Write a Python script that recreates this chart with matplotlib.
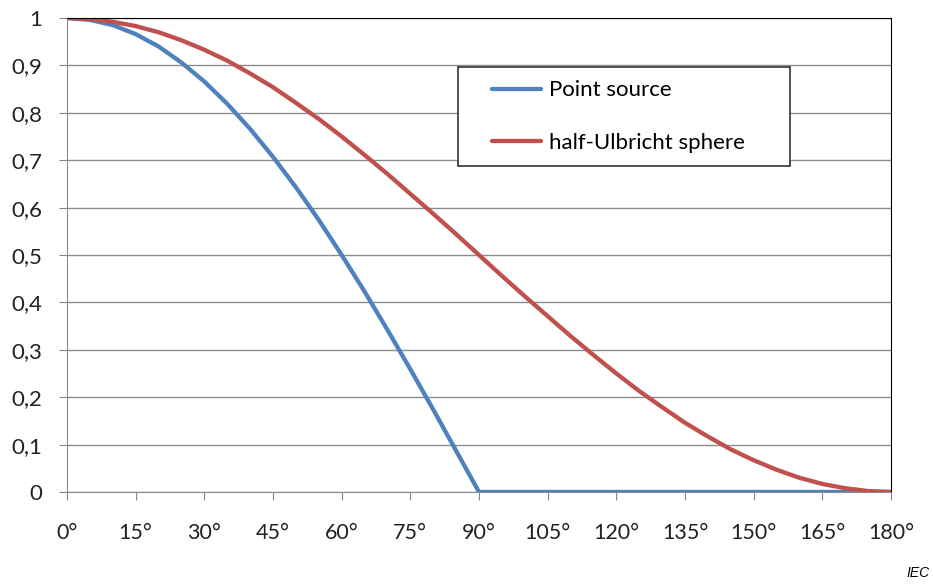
import matplotlib
matplotlib.use("Agg")
import matplotlib.pyplot as plt
from matplotlib.patches import Rectangle

# angles in degrees, 5 deg steps
angles = list(range(0, 185, 5))
point_source = [1.0, 0.996, 0.985, 0.966, 0.940, 0.906, 0.866, 0.819, 0.766, 0.707,
                0.643, 0.574, 0.500, 0.423, 0.342, 0.259, 0.174, 0.087, 0.0,
                0, 0, 0, 0, 0, 0, 0, 0, 0, 0, 0, 0, 0, 0, 0, 0, 0, 0]
half_sphere = [1.0, 0.998, 0.992, 0.983, 0.970, 0.953, 0.933, 0.910, 0.883, 0.854,
               0.821, 0.787, 0.750, 0.711, 0.671, 0.629, 0.587, 0.544, 0.500,
               0.456, 0.413, 0.371, 0.329, 0.289, 0.250, 0.213, 0.179, 0.146,
               0.117, 0.090, 0.067, 0.047, 0.030, 0.017, 0.008, 0.002, 0.0]
xticks = list(range(0, 181, 15))
xlabels = [f"{t}°" for t in xticks]
yticks = [i / 10 for i in range(11)]
ylabels = ["0"] + [f"0,{i}" for i in range(1, 10)] + ["1"]

plt.rcParams['font.family'] = ['Lato', 'DejaVu Sans']

W, H = 933, 586
fig = plt.figure(figsize=(W / 100, H / 100), dpi=100)
ax = fig.add_axes([67 / W, 1 - 492 / H, (891 - 67) / W, (492 - 18) / H])

ax.plot(angles, point_source, color='#4F81BD', lw=3.1, label='Point source', solid_capstyle='round')
ax.plot(angles, half_sphere, color='#C0504D', lw=3.1, label='half-Ulbricht sphere', solid_capstyle='round')

ax.set_xlim(0, 180)
ax.set_ylim(0, 1)
ax.set_xticks(xticks)
ax.set_xticklabels(xlabels, fontsize=15.5, color='#222222')
ax.set_yticks(yticks)
ax.set_yticklabels(ylabels, fontsize=16, color='#222222')
ax.tick_params(axis='x', length=6, color='#888888', pad=16)
ax.tick_params(axis='y', length=6, color='#888888', pad=12)
ax.grid(axis='y', color='#8c8c8c', lw=1)
ax.set_axisbelow(True)
for s in ['left', 'bottom']:
    ax.spines[s].set_color('#8c8c8c')
for s in ['top', 'right']:
    ax.spines[s].set_color('black')

# legend box drawn by hand, entries without frame
fig.patches.append(Rectangle((458 / W, 1 - 166 / H), (790 - 458) / W, (166 - 67) / H,
                             transform=fig.transFigure, facecolor='white',
                             edgecolor='#333333', lw=1.2, zorder=3))
leg = fig.legend(loc='center left', bbox_to_anchor=(492 / W, 1 - 116.5 / H), frameon=False,
                 fontsize=16, handlelength=2.2, borderpad=0, labelspacing=1.45,
                 handletextpad=0.35, borderaxespad=0)
leg.set_zorder(4)

fig.text(930 / W, 1 - 573 / H, 'IEC', fontsize=10, style='italic', ha='right', va='center',
         family=['Liberation Sans', 'DejaVu Sans'])

fig.savefig('out.png', dpi=100)
